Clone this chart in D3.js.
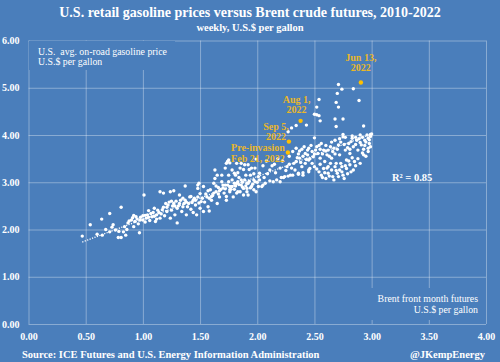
<!DOCTYPE html>
<html>
<head>
<meta charset="utf-8">
<script src="https://cdn.jsdelivr.net/npm/d3@7"></script>
<style>
  html, body { margin: 0; padding: 0; background: #4a7ebb; }
  text { font-family: "Liberation Serif", "DejaVu Serif", serif; font-weight: bold; fill: #fff; }
</style>
</head>
<body>
<div id="chart"></div>
<script>
// weekly Brent front month (U.S.$/gal) and U.S. retail gasoline (U.S.$/gal)
var brent = [
  0.47,0.54,0.60,0.64,0.645,0.675,0.71,0.71,0.74,0.76,0.785,0.81,0.81,0.83,0.85,0.84,0.87,0.90,0.92,0.94,
  0.97,0.975,1.00,1.01,1.03,1.04,1.06,1.08,1.09,1.11,1.12,1.13,1.15,1.15,1.16,1.18,1.18,1.19,1.21,1.22,
  1.24,1.24,1.25,1.27,1.27,1.28,1.30,1.30,1.32,1.32,1.34,1.35,1.37,1.37,1.38,1.40,1.41,1.42,1.44,1.44,
  1.46,1.47,1.48,1.48,1.50,1.51,1.53,1.53,1.56,1.57,1.58,1.59,1.60,1.62,1.62,1.63,1.65,1.66,1.67,1.69,
  1.70,1.71,1.73,1.73,1.75,1.75,1.76,1.78,1.78,1.79,1.80,1.82,1.83,1.85,1.86,1.88,1.89,1.91,1.92,1.94,
  1.95,1.97,1.98,1.99,2.01,
  0.88,0.91,0.93,0.95,0.98,1.00,1.02,1.05,1.07,1.10,1.12,1.14,
  1.21,1.23,1.26,1.29,1.31,1.33,1.36,1.39,1.43,1.45,1.49,1.52,
  1.55,1.58,1.61,1.64,1.66,1.68,1.72,1.74,1.77,1.81,1.84,1.87,1.90,1.93,1.96,2.00,
  1.49,1.48,
  1.74,1.76,1.72,1.63,1.65,1.86,1.92,1.88,1.93,1.83,
  1.81,1.75,1.69,1.72,1.76,1.80,1.83,1.86,1.89,1.92,1.98,1.85,1.91,1.97,1.95,1.82,1.99,2.02,2.04,
  1.76,1.82,1.88,1.91,2.01,2.05,2.07,2.11,2.14,2.17,2.20,2.21,2.23,2.24,2.27,2.29,2.31,2.36,2.36,2.40,2.40,2.45,2.45,2.46,
  2.34,2.26,2.37,2.33,2.42,2.45,2.39,2.11,2.05,2.08,2.15,2.18,2.22,2.28,
  2.31,2.34,2.39,2.42,2.45,2.48,2.49,2.52,2.53,2.55,2.56,2.58,2.59,2.61,2.62,2.64,2.65,2.66,2.68,2.69,
  2.71,2.72,2.74,2.75,2.77,2.78,2.80,2.81,2.83,2.84,2.85,2.87,2.88,2.90,2.91,2.93,2.94,2.96,2.97,2.98,
  2.50,2.54,2.56,2.58,2.60,2.62,2.65,2.66,2.68,2.70,2.72,2.75,2.78,2.81,2.84,
  2.50,2.55,2.60,2.63,2.67,2.70,2.73,2.76,2.79,2.82,2.86,2.89,2.92,2.95,2.99,3.00,2.97,2.93,2.40,2.44,2.36,
  2.71,2.74,2.70,2.84,2.89,2.69,2.71,2.54,2.52,2.50,2.52,2.54,2.55,2.68,2.75,2.69,2.93,2.43,2.34,2.30,
  2.50,2.75,2.83,2.99,2.27,
  2.52,2.55,2.57,2.59,2.61,2.63,2.64,2.67,2.69,2.71,2.73,2.74,2.76,2.77,2.79,2.80,2.82,2.83,2.86,2.88,
  2.90,2.92,2.95,2.97,2.99,2.48,2.46,2.43,2.38,2.35,2.32,2.30,2.28,2.25,2.20,2.16,2.13,
  2.37,2.41,2.44,2.47,2.51,2.54,2.57,2.60,2.62,2.65,2.68,2.72,2.77,2.81,2.86,2.90,2.94,2.98,
  1.05,1.10,1.17,1.20,1.25,1.28,1.35,1.38,1.42,1.46,1.50,1.54,1.57,1.60,1.64,1.67,1.70,1.73,1.78,1.80,
  1.84,1.87,1.90,1.94,1.97,2.02,2.06,2.09,1.02,0.96,0.92,0.86,0.79,0.73
];
var gasoline = [
  1.86,2.10,1.90,2.22,1.88,2.00,2.34,1.95,2.10,1.99,1.83,2.47,1.83,1.95,1.88,2.06,2.14,2.20,2.06,2.27,
  1.93,2.20,2.29,2.73,2.24,2.31,2.19,2.27,2.36,2.17,2.31,2.41,2.24,2.80,2.33,2.47,2.77,2.29,2.38,2.52,
  2.80,2.24,2.41,2.55,2.82,2.31,2.14,2.45,2.73,2.55,2.38,2.48,2.92,2.62,2.31,2.55,2.69,2.43,2.62,2.36,
  2.52,2.31,2.94,2.69,2.45,2.59,2.91,2.38,2.69,2.48,2.39,2.84,2.62,2.98,2.77,3.08,2.55,2.89,2.69,3.15,
  2.94,2.77,3.40,2.62,3.01,3.47,2.80,3.26,2.91,2.69,3.19,2.98,2.80,3.30,3.05,2.87,3.37,2.98,2.73,3.15,
  2.91,3.05,3.30,2.80,3.12,
  2.18,2.25,2.17,2.22,2.26,2.20,2.30,2.26,2.34,2.28,2.22,2.36,
  2.47,2.58,2.50,2.60,2.50,2.62,2.55,2.48,2.57,2.66,2.56,2.66,
  2.75,2.66,2.72,2.80,2.75,2.85,2.86,2.94,2.85,2.92,2.95,3.00,2.92,3.02,2.96,3.00,
  2.98,2.87,
  3.44,3.41,3.30,3.26,3.15,3.40,3.37,3.27,3.27,3.20,
  3.15,3.15,3.01,2.94,2.91,2.98,3.01,2.94,3.05,2.98,3.01,2.80,2.80,2.84,3.30,3.40,3.49,3.19,2.91,
  2.84,2.77,2.73,2.87,2.91,2.94,2.98,3.03,3.01,3.05,3.01,3.10,3.10,3.12,3.13,3.15,3.15,3.17,3.19,3.20,3.15,3.22,3.26,3.29,
  3.44,3.33,3.51,3.26,3.40,3.47,3.33,3.26,3.35,3.45,3.38,3.50,3.45,3.55,
  3.65,3.72,3.70,3.61,3.72,3.65,3.54,3.75,3.61,3.51,3.82,3.68,3.44,3.58,3.33,3.75,3.51,3.65,3.89,3.40,
  3.79,3.58,3.33,3.96,3.68,3.47,3.82,3.61,3.93,3.75,3.44,3.89,3.68,4.00,3.79,3.58,3.89,4.00,3.93,3.82,
  3.33,3.22,3.15,3.29,3.08,3.19,3.26,3.12,3.33,3.19,3.26,3.15,3.29,3.37,3.26,
  3.60,3.70,3.66,3.55,3.72,3.70,3.85,3.80,3.73,3.86,3.80,3.92,3.95,3.85,3.97,4.02,3.72,3.70,3.55,3.58,3.60,
  5.07,4.97,4.88,4.98,4.73,4.69,4.59,4.75,4.59,4.44,4.43,4.41,4.30,4.34,4.34,4.18,4.19,4.21,4.20,4.15,
  3.94,4.01,3.98,4.01,4.07,
  3.28,3.38,3.10,3.20,3.30,3.13,3.40,3.05,3.25,3.12,3.40,3.22,3.08,3.35,3.18,3.45,3.22,3.52,3.35,3.50,
  3.40,3.62,3.55,3.65,3.75,3.40,3.50,3.48,3.42,3.52,3.40,3.30,3.38,3.25,3.30,3.20,3.35,
  3.66,3.75,3.68,3.78,3.68,3.78,3.60,3.78,3.68,3.85,3.60,3.92,3.95,3.70,3.95,3.84,3.78,3.90,
  2.40,2.45,2.42,2.55,2.60,2.50,2.66,2.58,2.70,2.62,2.76,2.58,2.82,2.70,2.92,2.82,2.88,2.70,3.05,2.85,
  3.10,2.90,3.15,2.88,3.18,3.05,3.10,3.18,2.16,2.12,2.30,2.00,1.96,2.05
];

// highlighted 2022 weeks
var hlBrent = [2.906, 2.379, 2.277, 2.268];
var hlGasoline = [5.11, 4.30, 3.86, 3.63];
var hlLabels = [["Jun 13,", "2022"], ["Aug 1,", "2022"], ["Sep 5,", "2022"], ["Pre-invasion", "Feb 21, 2022"]];

// linear fit
var trendRange = [0.47, 2.99];
var trendSlope = 0.904, trendIntercept = 1.31;
var rSquared = "R\u00b2 = 0.85";

var xTicks = [0, 0.5, 1, 1.5, 2, 2.5, 3, 3.5, 4];
var yTicks = [0, 1, 2, 3, 4, 5, 6];

var width = 500, height = 362,
    bg = "#4a7ebb", gold = "#ffc000", goldText = "#eab728",
    grid = "rgba(255,255,255,0.35)";

var svg = d3.select("#chart").append("svg")
    .attr("width", width)
    .attr("height", height);

svg.append("rect").attr("width", width).attr("height", height).attr("fill", bg);

var x = d3.scaleLinear().domain([0, 4]).range([28.5, 486]);
var y = d3.scaleLinear().domain([0, 6]).range([324, 40.5]);

// gridlines
svg.append("g")
    .attr("class", "grid")
    .attr("transform", "translate(0," + y(0) + ")")
    .call(d3.axisBottom(x).tickValues(xTicks).tickSize(-(y(0) - y(6))).tickFormat(""))
    .call(function (g) { g.select(".domain").remove(); });
svg.append("g")
    .attr("class", "grid")
    .attr("transform", "translate(" + x(0) + ",0)")
    .call(d3.axisLeft(y).tickValues(yTicks).tickSize(-(x(4) - x(0))).tickFormat(""))
    .call(function (g) { g.select(".domain").remove(); });
svg.selectAll(".grid line").attr("stroke", grid).attr("stroke-width", 1);

// boxes behind the axis titles hide the gridlines
svg.append("rect").attr("x", 29).attr("y", 41).attr("width", 146).attr("height", 29).attr("fill", bg);
svg.append("rect").attr("x", 366).attr("y", 288).attr("width", 117).attr("height", 32).attr("fill", bg);

// tick labels
var fmt = d3.format(".2f");
var xAxis = svg.append("g")
    .attr("transform", "translate(0," + y(0) + ")")
    .call(d3.axisBottom(x).tickValues(xTicks).tickSize(0).tickPadding(9).tickFormat(fmt));
var yAxis = svg.append("g")
    .attr("transform", "translate(" + x(0) + ",0)")
    .call(d3.axisLeft(y).tickValues(yTicks).tickSize(0).tickFormat(fmt));
[xAxis, yAxis].forEach(function (a) {
  a.select(".domain").remove();
  a.selectAll("text").attr("fill", "#fff").style("font-size", "10px")
    .attr("font-family", null);
});
yAxis.selectAll("text").attr("x", 2 - x(0)).attr("text-anchor", "start");

// trend line
svg.append("line")
    .attr("x1", x(trendRange[0])).attr("y1", y(trendSlope * trendRange[0] + trendIntercept))
    .attr("x2", x(trendRange[1])).attr("y2", y(trendSlope * trendRange[1] + trendIntercept))
    .attr("stroke", "#fff").attr("stroke-width", 1.3)
    .attr("stroke-dasharray", "1.2,1.4");

// weekly points
svg.append("g").selectAll("circle")
    .data(brent)
    .enter()
    .append("circle")
    .attr("cx", function (d) { return x(d); })
    .attr("cy", function (d, i) { return y(gasoline[i]); })
    .attr("r", 1.7)
    .attr("fill", "#fff");

// highlighted weeks
svg.append("g").selectAll("circle")
    .data(hlBrent)
    .enter()
    .append("circle")
    .attr("cx", function (d) { return x(d); })
    .attr("cy", function (d, i) { return y(hlGasoline[i]); })
    .attr("r", 2.2)
    .attr("fill", gold);

var labelOffsets = [[0, -22], [-4, -18], [-13, -12], [-30, -1]];
hlLabels.forEach(function (lines, i) {
  var t = svg.append("text")
      .attr("text-anchor", "middle")
      .attr("x", x(hlBrent[i]) + labelOffsets[i][0])
      .attr("y", y(hlGasoline[i]) + labelOffsets[i][1])
      .style("font-size", "10px")
      .style("fill", goldText);
  lines.forEach(function (s, j) {
    t.append("tspan").attr("x", x(hlBrent[i]) + labelOffsets[i][0]).attr("dy", j ? 10.3 : 0).text(s);
  });
});

// titles and notes
svg.append("text").attr("x", 250).attr("y", 17).attr("text-anchor", "middle")
    .style("font-size", "14px").text("U.S. retail gasoline prices versus Brent crude futures, 2010-2022");
svg.append("text").attr("x", 250).attr("y", 30.5).attr("text-anchor", "middle")
    .style("font-size", "10.5px").text("weekly, U.S.$ per gallon");

var yNote = svg.append("text").attr("x", 38).attr("y", 54.5).style("font-size", "9.8px").style("font-weight", "normal");
yNote.append("tspan").attr("x", 38).text("U.S.  avg. on-road gasoline price").attr("xml:space", "preserve");
yNote.append("tspan").attr("x", 38).attr("dy", 10.8).text("U.S.$ per gallon");

var xNote = svg.append("text").attr("x", 478).attr("y", 301.5).attr("text-anchor", "end")
    .style("font-size", "9.8px").style("font-weight", "normal");
xNote.append("tspan").attr("x", 478).text("Brent front month futures");
xNote.append("tspan").attr("x", 478).attr("dy", 11).text("U.S.$ per gallon");

svg.append("text").attr("x", 392).attr("y", 180.5).style("font-size", "10.5px").text(rSquared);

svg.append("text").attr("x", 22).attr("y", 357.5).style("font-size", "10.5px")
    .text("Source: ICE Futures and U.S. Energy Information Administration");
svg.append("text").attr("x", 485).attr("y", 357.5).attr("text-anchor", "end").style("font-size", "10.5px")
    .text("@JKempEnergy");
</script>
</body>
</html>
